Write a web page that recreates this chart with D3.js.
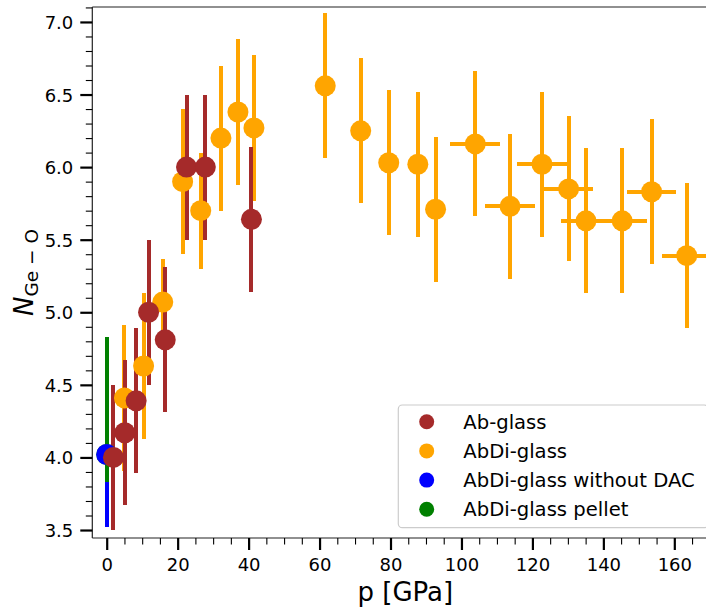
<!DOCTYPE html>
<html>
<head>
<meta charset="utf-8">
<script src="https://cdn.jsdelivr.net/npm/d3@7"></script>
<style>
  html, body { margin: 0; padding: 0; background: #fff; }
  svg { display: block; font-family: "DejaVu Sans", sans-serif; }
</style>
</head>
<body>
<svg id="chart" width="706" height="610"></svg>
<script>
// ---------- data ----------
const abX    = [1.9, 5.1, 8.3, 11.8, 16.5, 22.5, 27.8, 40.8];
const abY    = [4.00, 4.17, 4.39, 5.00, 4.81, 6.00, 6.00, 5.64];
const abYErr = [0.5, 0.5, 0.5, 0.5, 0.5, 0.5, 0.5, 0.5];

const abdiX    = [5.0, 10.4, 15.8, 21.4, 26.5, 32.2, 37.0, 41.5, 61.6, 71.6, 79.5, 87.7, 92.7,
                  103.9, 113.7, 122.7, 130.2, 135.1, 145.3, 153.6, 163.5];
const abdiY    = [4.41, 4.63, 5.07, 5.90, 5.70, 6.20, 6.38, 6.27, 6.56, 6.25, 6.03, 6.02, 5.71,
                  6.16, 5.73, 6.02, 5.85, 5.63, 5.63, 5.83, 5.39];
const abdiYErr = [0.5, 0.5, 0.3, 0.5, 0.4, 0.5, 0.5, 0.5, 0.5, 0.5, 0.5, 0.5, 0.5,
                  0.5, 0.5, 0.5, 0.5, 0.5, 0.5, 0.5, 0.5];
const abdiXErr = [0, 0, 0, 0, 0, 0, 0, 0, 0, 0, 0, 0, 0,
                  7, 7, 7, 7, 7, 7, 7, 7];

const noDacX = [0.0];
const noDacY = [4.02];
const noDacYErr = [0.5];

const pelletX = [0.0];
const pelletY = [4.02];
const pelletYErrLow = [0.19];
const pelletYErrHigh = [0.81];

const xTicks = [0, 20, 40, 60, 80, 100, 120, 140, 160];
const yTicks = [3.5, 4.0, 4.5, 5.0, 5.5, 6.0, 6.5, 7.0];
const legendLabels = ["Ab-glass", "AbDi-glass", "AbDi-glass without DAC", "AbDi-glass pellet"];
const colors = { ab: "#A52A2A", abdi: "#FFA500", nodac: "#0000FF", pellet: "#008000" };

// ---------- layout ----------
const plot = { left: 92.3, right: 718.3, top: 7, bottom: 538 };
const x = d3.scaleLinear().domain([-4.06, 172.4]).range([plot.left, plot.right]);
const y = d3.scaleLinear().domain([3.445, 7.103]).range([plot.bottom, plot.top]);

const svg = d3.select("#chart");

// series as row tables
const mk = (xs, ys, lo, hi, xe, color) => xs.map((v, i) => ({
  x: v, y: ys[i], lo: lo[i], hi: hi[i], xe: xe ? xe[i] : 0, color
}));
const sAbdi = mk(abdiX, abdiY, abdiYErr, abdiYErr, abdiXErr, colors.abdi);
const sNoDac = mk(noDacX, noDacY, noDacYErr, noDacYErr, null, colors.nodac);
const sPellet = mk(pelletX, pelletY, pelletYErrLow, pelletYErrHigh, null, colors.pellet);
const sAb = mk(abX, abY, abYErr, abYErr, null, colors.ab);

const gPlot = svg.append("g");

// error bars (drawn below all markers)
function drawBars(series) {
  const g = gPlot.append("g").attr("shape-rendering", "crispEdges");
  g.selectAll("line.v").data(series).join("line")
    .attr("x1", d => x(d.x)).attr("x2", d => x(d.x))
    .attr("y1", d => y(d.y - d.lo)).attr("y2", d => y(d.y + d.hi))
    .attr("stroke", d => d.color).attr("stroke-width", 4);
  g.selectAll("line.h").data(series.filter(d => d.xe > 0)).join("line")
    .attr("x1", d => x(d.x - d.xe)).attr("x2", d => x(d.x + d.xe))
    .attr("y1", d => y(d.y)).attr("y2", d => y(d.y))
    .attr("stroke", d => d.color).attr("stroke-width", 4);
}
function drawMarkers(series) {
  gPlot.append("g").selectAll("circle").data(series).join("circle")
    .attr("cx", d => x(d.x)).attr("cy", d => y(d.y)).attr("r", 10.5)
    .attr("fill", d => d.color);
}
drawBars(sAbdi); drawBars(sNoDac); drawBars(sPellet); drawBars(sAb);
drawMarkers(sPellet); drawMarkers(sNoDac); drawMarkers(sAbdi); drawMarkers(sAb);

// ---------- spines ----------
svg.append("line").attr("x1", plot.left).attr("x2", plot.left).attr("y1", plot.top).attr("y2", plot.bottom)
  .attr("stroke", "#222").attr("stroke-width", 1.2);
svg.append("line").attr("x1", plot.left).attr("x2", plot.right).attr("y1", plot.bottom).attr("y2", plot.bottom)
  .attr("stroke", "#222").attr("stroke-width", 1.2);
svg.append("line").attr("x1", plot.left).attr("x2", plot.right).attr("y1", plot.top).attr("y2", plot.top)
  .attr("stroke", "#222").attr("stroke-width", 1.2);
svg.append("line").attr("x1", plot.right).attr("x2", plot.right).attr("y1", plot.top).attr("y2", plot.bottom)
  .attr("stroke", "#222").attr("stroke-width", 1.2);

// ---------- axes ----------
const xMinor = d3.range(0, 172, 5).filter(v => v % 20 !== 0);
const yMinor = d3.range(35, 72, 1).map(v => v / 10).filter(v => Math.round(v * 10) % 5 !== 0);

const xAxis = svg.append("g").attr("transform", `translate(0,${plot.bottom})`)
  .call(d3.axisBottom(x).tickValues(xTicks).tickFormat(d3.format("d")).tickSize(12).tickPadding(8));
const xAxisMinor = svg.append("g").attr("transform", `translate(0,${plot.bottom})`)
  .call(d3.axisBottom(x).tickValues(xMinor).tickFormat("").tickSize(6.5));
const yAxis = svg.append("g").attr("transform", `translate(${plot.left},0)`)
  .call(d3.axisLeft(y).tickValues(yTicks).tickFormat(d3.format(".1f")).tickSize(12).tickPadding(7));
const yAxisMinor = svg.append("g").attr("transform", `translate(${plot.left},0)`)
  .call(d3.axisLeft(y).tickValues(yMinor).tickFormat("").tickSize(6.5));

[xAxis, xAxisMinor, yAxis, yAxisMinor].forEach(g => g.select(".domain").remove());
xAxis.selectAll(".tick line").attr("stroke", "#000").attr("stroke-width", 2.2);
yAxis.selectAll(".tick line").attr("stroke", "#000").attr("stroke-width", 2.2);
xAxisMinor.selectAll(".tick line").attr("stroke", "#000").attr("stroke-width", 1.1);
yAxisMinor.selectAll(".tick line").attr("stroke", "#000").attr("stroke-width", 1.1);
xAxis.selectAll(".tick text").attr("font-family", "DejaVu Sans").attr("font-size", 18).attr("fill", "#000");
yAxis.selectAll(".tick text").attr("font-family", "DejaVu Sans").attr("font-size", 18).attr("fill", "#000")
  .attr("dy", "0.36em");

// axis labels
svg.append("text").attr("x", (plot.left + plot.right) / 2).attr("y", 601)
  .attr("text-anchor", "middle").attr("font-size", 26).attr("fill", "#000").text("p [GPa]");

const yl = svg.append("text")
  .attr("transform", `translate(32.5,${(plot.top + plot.bottom) / 2}) rotate(-90)`)
  .attr("text-anchor", "middle").attr("fill", "#000");
yl.append("tspan").attr("font-size", 26).attr("font-style", "italic").text("N");
yl.append("tspan").attr("font-size", 18.5).attr("dy", 5).text("Ge − O");

// ---------- legend ----------
const lg = svg.append("g");
lg.append("rect").attr("x", 398.3).attr("y", 405).attr("width", 310).attr("height", 122.7)
  .attr("rx", 4).attr("fill", "#fff").attr("fill-opacity", 0.8)
  .attr("stroke", "#cccccc").attr("stroke-width", 1.2);
const legColors = [colors.ab, colors.abdi, colors.nodac, colors.pellet];
legendLabels.forEach((lab, i) => {
  const cy = 421.7 + i * 29.2;
  lg.append("circle").attr("cx", 426.7).attr("cy", cy).attr("r", 7.5).attr("fill", legColors[i]);
  lg.append("text").attr("x", 463.3).attr("y", cy + 7).attr("font-size", 19.6).attr("fill", "#000").text(lab);
});
</script>
</body>
</html>
